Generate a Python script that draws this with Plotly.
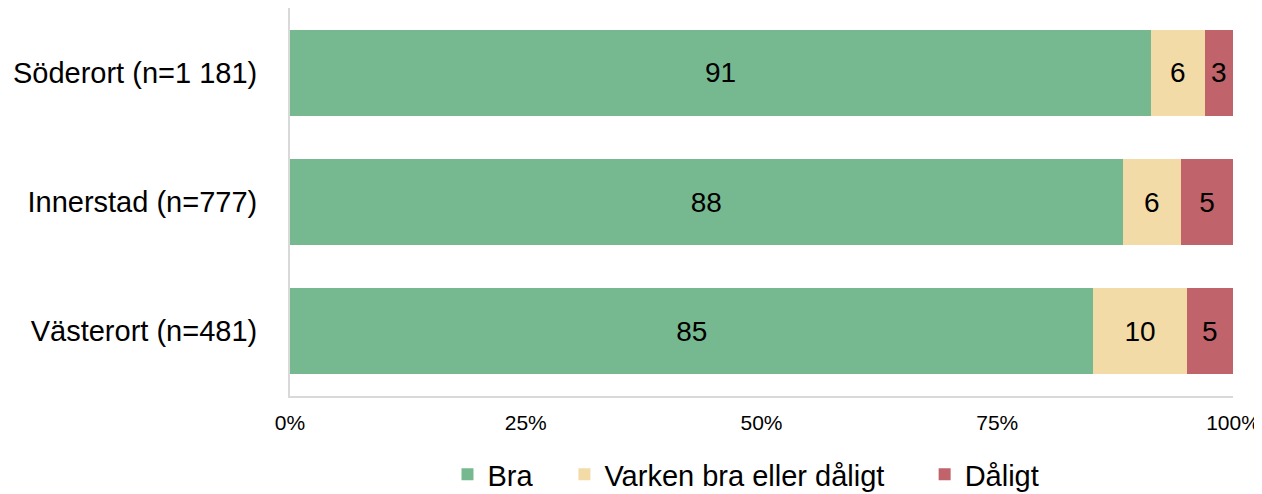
import plotly.graph_objects as go

categories = ["Söderort (n=1 181)", "Innerstad (n=777)", "Västerort (n=481)"]
bra = [91.3, 88.3, 85.2]
varken = [5.7, 6.2, 9.9]
daligt = [3.0, 5.5, 4.9]
bra_lbl = ["91", "88", "85"]
varken_lbl = ["6", "6", "10"]
daligt_lbl = ["3", "5", "5"]
tick_vals = [0, 25, 50, 75, 100]
tick_text = ["0%", "25%", "50%", "75%", "100%"]

series = [
    ("Bra", bra, bra_lbl, "#76b990", "legend", 0.167),
    ("Varken bra eller dåligt", varken, varken_lbl, "#f3dba8", "legend2", 0.291),
    ("Dåligt", daligt, daligt_lbl, "#c0636b", "legend3", 0.673),
]

FONT = "Liberation Sans, Arial, sans-serif"

fig = go.Figure()
for name, vals, lbls, col, leg, _ in series:
    fig.add_trace(go.Bar(
        y=categories, x=vals, name=name, orientation="h",
        marker=dict(color=col, line=dict(width=0)),
        text=lbls, textposition="inside", insidetextanchor="middle",
        textfont=dict(size=28, color="black", family=FONT),
        textangle=0, hoverinfo="skip", legend=leg,
    ))

legends = {}
for name, vals, lbls, col, leg, lx in series:
    legends[leg] = dict(orientation="h", x=lx, xanchor="left", y=-0.202, yanchor="middle",
                        font=dict(size=29), itemwidth=30, bgcolor="rgba(0,0,0,0)")

fig.update_layout(
    barmode="stack",
    bargap=0.335,
    width=1262, height=494,
    margin=dict(l=282, r=37, t=0, b=106, autoexpand=False),
    paper_bgcolor="white", plot_bgcolor="white",
    font=dict(family=FONT, color="black"),
    showlegend=True,
    **legends,
)
fig.update_xaxes(range=[0, 100], tickvals=tick_vals, ticktext=tick_text,
                 tickfont=dict(size=21), showgrid=False, zeroline=False,
                 showline=True, linecolor="#d9d9d9", linewidth=2, ticks="",
                 ticklabelstandoff=7, automargin=False)
fig.update_yaxes(autorange="reversed", tickfont=dict(size=29), showgrid=False,
                 showline=True, linecolor="#d9d9d9", linewidth=2, ticks="",
                 ticklabelstandoff=25, automargin=False)

fig.write_html("out.html")
